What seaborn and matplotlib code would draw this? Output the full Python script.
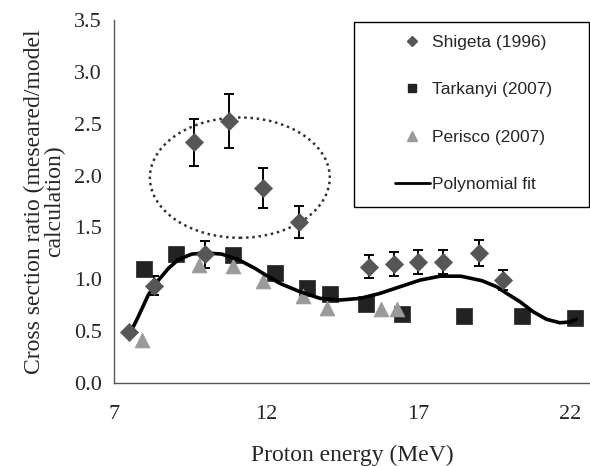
import numpy as np
import pandas as pd
import seaborn as sns
from matplotlib import pyplot as plt
from matplotlib.patches import Ellipse, Rectangle
from matplotlib.lines import Line2D

# data
shigeta_x = [7.49, 8.31, 9.61, 9.99, 10.78, 11.88, 13.09, 15.39, 16.2, 17.0, 17.8, 19.0, 19.79]
shigeta_y = [0.49, 0.94, 2.32, 1.24, 2.53, 1.88, 1.55, 1.12, 1.15, 1.17, 1.17, 1.25, 0.99]
shigeta_err = [0.0, 0.095, 0.23, 0.13, 0.26, 0.19, 0.155, 0.11, 0.115, 0.117, 0.117, 0.125, 0.096]

tarkanyi_x = [7.98, 9.03, 10.89, 12.29, 13.33, 14.1, 15.28, 16.47, 18.51, 20.4, 22.15]
tarkanyi_y = [1.10, 1.24, 1.23, 1.06, 0.92, 0.86, 0.76, 0.67, 0.65, 0.65, 0.63]

perisco_x = [7.9, 9.79, 10.89, 11.88, 13.2, 14.0, 15.77, 16.31]
perisco_y = [0.41, 1.14, 1.13, 0.98, 0.84, 0.72, 0.71, 0.71]

fit_x = [7.52, 7.79, 8.12, 8.45, 8.78, 9.11, 9.55, 9.98, 10.53, 11.08, 11.63, 11.96,
         12.45, 13.11, 13.77, 14.43, 15.09, 15.74, 16.4, 17.06, 17.72, 18.4, 19.1,
         19.58, 19.91, 20.35, 20.78, 21.22, 21.66, 21.99, 22.2]
fit_y = [0.48, 0.64, 0.85, 0.99, 1.105, 1.19, 1.243, 1.255, 1.243, 1.19, 1.105, 1.045,
         0.96, 0.88, 0.816, 0.80, 0.816, 0.864, 0.928, 0.992, 1.03, 1.03, 0.986,
         0.928, 0.864, 0.783, 0.687, 0.614, 0.581, 0.588, 0.614]

series_names = ["Shigeta (1996)", "Tarkanyi (2007)", "Perisco (2007)", "Polynomial fit"]

# dotted ellipse around the outlier group
ell_center = (11.13, 1.98)
ell_width, ell_height = 5.92, 1.16

shigeta = pd.DataFrame({"E": shigeta_x, "ratio": shigeta_y, "err": shigeta_err})
tarkanyi = pd.DataFrame({"E": tarkanyi_x, "ratio": tarkanyi_y})
perisco = pd.DataFrame({"E": perisco_x, "ratio": perisco_y})
fit = pd.DataFrame({"E": fit_x, "ratio": fit_y})

sns.set_style("white")
plt.rcParams['font.family'] = ['Liberation Serif', 'DejaVu Serif']

c_dia, c_sq, c_tri = '#565656', '#222222', '#9a9a9a'

fig = plt.figure(figsize=(5.9, 4.66), dpi=100)
ax = fig.add_axes([0.1937, 0.1781, 0.8063, 0.779])

ax.errorbar(shigeta.E, shigeta.ratio, yerr=shigeta.err, fmt='none',
            ecolor='black', elinewidth=1.4, capsize=3.5, capthick=1.4, zorder=2)
sns.scatterplot(data=tarkanyi, x="E", y="ratio", marker='s', s=130, color=c_sq,
                edgecolor=c_sq, linewidth=0.5, ax=ax, zorder=3)
sns.scatterplot(data=perisco, x="E", y="ratio", marker='^', s=115, color=c_tri,
                edgecolor=c_tri, linewidth=0.5, ax=ax, zorder=4)
sns.lineplot(data=fit, x="E", y="ratio", sort=False, estimator=None, color='black',
             linewidth=2.6, ax=ax, zorder=5)
sns.scatterplot(data=shigeta, x="E", y="ratio", marker='D', s=85, color=c_dia,
                edgecolor=c_dia, linewidth=0.5, ax=ax, zorder=6)

ax.add_patch(Ellipse(ell_center, ell_width, ell_height, fill=False, linestyle=(0, (1, 1.5)),
                     linewidth=1.8, edgecolor='#333333'))

ax.set_xlim(7, 22.65)
ax.set_ylim(0, 3.5)
ax.set_xticks([7, 12, 17, 22])
ax.set_yticks(np.arange(0, 3.51, 0.5))
ax.yaxis.set_major_formatter(plt.FormatStrFormatter('%.1f'))
ax.tick_params(axis='both', direction='out', length=6, width=1, color='#555555',
               labelsize=16)
ax.tick_params(axis='x', pad=10)
ax.tick_params(axis='y', pad=3)
for side in ['top', 'right']:
    ax.spines[side].set_visible(False)
for side in ['left', 'bottom']:
    ax.spines[side].set_color('#555555')
    ax.spines[side].set_linewidth(1)

ax.set_xlabel("Proton energy (MeV)", fontsize=17, labelpad=15)
ax.set_ylabel("Cross section ratio (meseared/model\ncalculation)", fontsize=17,
              labelpad=6, linespacing=0.95)

# legend: frame drawn separately so the inner padding can match
fig.patches.append(Rectangle((354 / 590, 1 - 207 / 466), 235 / 590, 185 / 466,
                             transform=fig.transFigure, fill=False,
                             edgecolor='black', linewidth=1))
handles = [
    Line2D([], [], linestyle='none', marker='D', markersize=5.5, color=c_dia),
    Line2D([], [], linestyle='none', marker='s', markersize=6, color=c_sq),
    Line2D([], [], linestyle='none', marker='^', markersize=7, color=c_tri),
    Line2D([], [], color='black', linewidth=2),
]
ax.legend(handles, series_names, loc='upper left',
          bbox_to_anchor=(395 / 590, 1 - 35 / 466), bbox_transform=fig.transFigure,
          frameon=False, prop={'family': 'Liberation Sans', 'size': 12.5},
          labelspacing=1.85, borderpad=0, handlelength=2.0, handletextpad=0.15,
          borderaxespad=0)

fig.savefig("out.png", dpi=100)
